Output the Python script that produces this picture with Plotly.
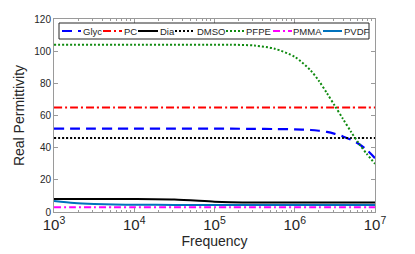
import plotly.graph_objects as go

# ---- data ----
freq = [1e3, 1.78e3, 3.16e3, 5.62e3, 1e4, 3.16e4, 1e5, 1.58e5, 3.16e5, 5.62e5,
        1e6, 1.58e6, 2.0e6, 2.51e6, 3.16e6, 3.98e6, 5.01e6, 6.31e6, 7.94e6, 1e7]

glyc = [51.8, 51.8, 51.8, 51.8, 51.8, 51.8, 51.8, 51.8, 51.7, 51.6,
        51.4, 51.0, 50.5, 49.8, 48.6, 47.0, 45.0, 42.3, 38.5, 33.5]
pc   = [65.0] * 20
dia  = [8.1, 8.1, 8.1, 8.1, 8.1, 7.8, 6.4, 6.1, 5.9, 5.9,
        5.9, 5.9, 5.9, 5.9, 5.9, 5.9, 5.9, 5.9, 5.9, 5.9]
dmso = [46.0] * 20
pfpe = [104.0, 104.0, 104.0, 104.0, 104.0, 104.0, 104.0, 104.0, 103.5, 101.5,
        96.5, 88.0, 81.5, 74.0, 66.0, 58.0, 50.0, 42.5, 36.0, 30.0]
pmma = [3.0] * 20
pvdf = [6.9, 5.6, 5.0, 4.7, 4.5, 4.4, 4.4, 4.4, 4.4, 4.4,
        4.4, 4.4, 4.4, 4.4, 4.4, 4.4, 4.4, 4.4, 4.4, 4.4]

names = ["Glyc", "PC", "Dia", "DMSO", "PFPE", "PMMA", "PVDF"]
series = [glyc, pc, dia, dmso, pfpe, pmma, pvdf]

styles = {
    "Glyc": dict(color="#0000FF", dash="10px,6px", width=2.2),
    "PC":   dict(color="#FF0000", dash="8px,3px,2px,3px", width=2),
    "Dia":  dict(color="#000000", dash="solid", width=2),
    "DMSO": dict(color="#000000", dash="2px,2px", width=2),
    "PFPE": dict(color="#0F8A0F", dash="2px,2px", width=2),
    "PMMA": dict(color="#FF00FF", dash="7px,3px,2px,3px", width=2),
    "PVDF": dict(color="#0072BD", dash="solid", width=2),
}

# page body has an 8px margin, so the figure is sized to fit the 415x254 window
OFF = 8
W, H = 415 - OFF, 254 - OFF
ML, MT = 54 - OFF, 19 - OFF
MR, MB = 415 - 375, 254 - 212
PW, PH = W - ML - MR, H - MT - MB

fig = go.Figure()
for n, s in zip(names, series):
    fig.add_trace(go.Scatter(x=freq, y=s, mode="lines", name=n,
                             line=dict(shape="spline", smoothing=0.8, **styles[n]),
                             showlegend=False))

# ---- custom legend (screen pixel layout converted to paper coordinates) ----
def px(xs):
    return (xs - OFF - ML) / PW

def py(ys):
    return (MT + PH - (ys - OFF)) / PH

fig.add_shape(type="rect", xref="paper", yref="paper",
              x0=px(59), x1=px(369), y0=py(39), y1=py(23),
              line=dict(color="#262626", width=1), fillcolor="white", layer="above")

leg_pos = [(62, 81, 83), (103, 122, 124), (138, 158, 160), (175, 194, 197),
           (226, 244, 246), (273, 292, 293), (323, 342, 344)]
yc = py(31)
for n, (a, b, t) in zip(names, leg_pos):
    st = styles[n]
    fig.add_shape(type="line", xref="paper", yref="paper",
                  x0=px(a), x1=px(b), y0=yc, y1=yc, layer="above",
                  line=dict(color=st["color"], dash=st["dash"], width=st["width"]))
    fig.add_annotation(xref="paper", yref="paper", x=px(t), y=yc, text=n,
                       showarrow=False, xanchor="left", yanchor="middle",
                       borderpad=0, borderwidth=0,
                       font=dict(family="Liberation Sans, Arial", size=9.5, color="#262626"))

axis_col = "#9a9a9a"
fig.update_layout(
    width=W, height=H,
    margin=dict(l=ML, r=MR, t=MT, b=MB, autoexpand=False),
    paper_bgcolor="white", plot_bgcolor="white",
    font=dict(family="Liberation Sans, Arial", color="#262626"),
    xaxis=dict(type="log", range=[3, 7], dtick=1, exponentformat="power",
               showexponent="all", showgrid=False, zeroline=False, automargin=False,
               showline=True, linecolor=axis_col, linewidth=1, mirror="ticks",
               ticks="inside", ticklen=4, tickcolor=axis_col,
               tickfont=dict(size=12, color="#262626"),
               minor=dict(dtick="D1", ticks="inside", ticklen=2, tickcolor=axis_col,
                          showgrid=False),
               title=dict(text="Frequency", font=dict(size=14, color="#262626"), standoff=2)),
    yaxis=dict(range=[0, 120], dtick=20, showgrid=False, zeroline=False, automargin=False,
               showline=True, linecolor=axis_col, linewidth=1, mirror="ticks",
               ticks="inside", ticklen=4, tickcolor=axis_col,
               tickfont=dict(size=10, color="#262626"),
               title=dict(text="Real Permittivity", font=dict(size=14, color="#262626"), standoff=6)),
)

fig.write_html("out.html")
